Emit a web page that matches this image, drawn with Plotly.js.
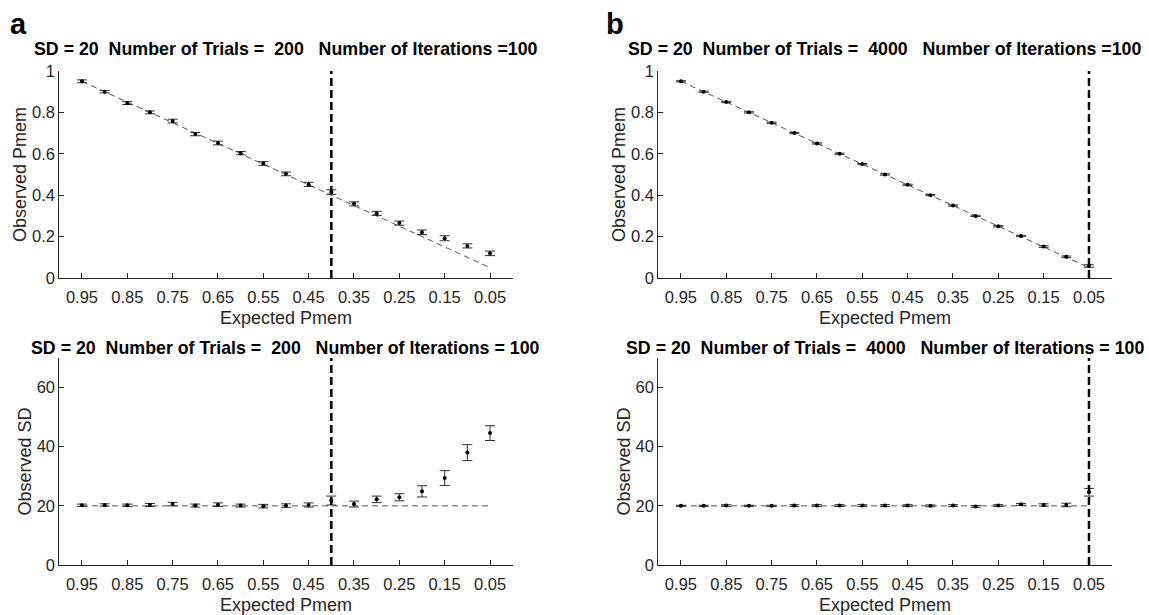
<!DOCTYPE html>
<html><head><meta charset="utf-8">
<script src="https://cdn.plot.ly/plotly-3.0.1.min.js"></script>
<style>html,body{margin:0;padding:0;background:#fff}#chart{width:1149px;height:615px}</style>
</head><body><div id="chart"></div>
<script>
// Expected Pmem (x categories, shared by all four panels)
const expectedPmem = [0.95,0.90,0.85,0.80,0.75,0.70,0.65,0.60,0.55,0.50,0.45,0.40,0.35,0.30,0.25,0.20,0.15,0.10,0.05];
const xTickVals = [0.95,0.85,0.75,0.65,0.55,0.45,0.35,0.25,0.15,0.05];
const xTickText = ["0.95","0.85","0.75","0.65","0.55","0.45","0.35","0.25","0.15","0.05"];
const trueSD = 20;

// Panel a (200 trials)
const aPmem    = [0.950,0.900,0.845,0.800,0.758,0.695,0.652,0.603,0.553,0.503,0.452,0.415,0.358,0.312,0.265,0.221,0.192,0.155,0.119];
const aPmemErr = [0.007,0.006,0.007,0.007,0.009,0.008,0.009,0.008,0.009,0.009,0.010,0.011,0.010,0.010,0.010,0.011,0.012,0.010,0.011];
const aSD      = [20.2,20.3,20.2,20.3,20.6,20.1,20.4,20.1,19.9,20.1,20.3,21.8,20.6,22.2,22.9,24.9,29.4,38.0,44.6];
const aSDErr   = [0.4,0.4,0.4,0.5,0.6,0.5,0.6,0.5,0.6,0.6,0.7,1.5,1.0,1.1,1.2,1.9,2.5,2.7,2.5];
const aCutoff  = 0.40;

// Panel b (4000 trials)
const bPmem    = [0.950,0.900,0.850,0.800,0.750,0.700,0.650,0.600,0.550,0.500,0.450,0.400,0.350,0.300,0.250,0.203,0.152,0.102,0.058];
const bPmemErr = [0.003,0.003,0.003,0.003,0.003,0.003,0.003,0.003,0.003,0.003,0.003,0.003,0.003,0.003,0.003,0.003,0.004,0.004,0.006];
const bSD      = [20.0,20.0,20.1,20.0,20.0,20.1,20.1,20.1,20.1,20.1,20.1,20.0,20.1,19.8,20.1,20.5,20.3,20.3,24.6];
const bSDErr   = [0.2,0.2,0.3,0.2,0.2,0.3,0.3,0.3,0.3,0.3,0.3,0.3,0.3,0.3,0.3,0.3,0.4,0.6,1.3];
const bCutoff  = 0.05;

const titles = [
  "SD = 20  Number of Trials =  200   Number of Iterations =100",
  "SD = 20  Number of Trials =  4000   Number of Iterations =100",
  "SD = 20  Number of Trials =  200   Number of Iterations = 100",
  "SD = 20  Number of Trials =  4000   Number of Iterations = 100"
];

const FONT = "Liberation Sans, Arial, sans-serif";
const AXC = "#262626";
const nb = s => s.replace(/ /g, "\u00a0");

function panelTraces(xa, ya, obs, err, ref) {
  return [
    {x: expectedPmem, y: ref, xaxis: xa, yaxis: ya, type: "scatter", mode: "lines",
     line: {color: "#555", width: 1, dash: "6px,4px"}, hoverinfo: "skip"},
    {x: expectedPmem, y: obs, xaxis: xa, yaxis: ya, type: "scatter", mode: "markers",
     marker: {color: "#000", size: 4},
     error_y: {type: "data", array: err, visible: true, color: "#333", thickness: 1, width: 5}}
  ];
}

const sdRef = expectedPmem.map(() => trueSD);
const data = [].concat(
  panelTraces("x", "y", aPmem, aPmemErr, expectedPmem),
  panelTraces("x2", "y2", bPmem, bPmemErr, expectedPmem),
  panelTraces("x3", "y3", aSD, aSDErr, sdRef),
  panelTraces("x4", "y4", bSD, bSDErr, sdRef)
);

function xax(domain, anchor) {
  return {domain: domain, anchor: anchor, range: [1, 0], tickvals: xTickVals, ticktext: xTickText,
    ticks: "inside", ticklen: 5, tickcolor: AXC, showline: true, linecolor: AXC, linewidth: 1,
    showgrid: false, zeroline: false, tickfont: {family: FONT, size: 16.5, color: AXC},
    ticklabelstandoff: 4,
    title: {text: "Expected Pmem", font: {family: FONT, size: 18, color: AXC}, standoff: 6},
    automargin: false, fixedrange: true};
}
function yax(domain, anchor, range, dtick, title) {
  return {domain: domain, anchor: anchor, range: range, dtick: dtick,
    ticks: "inside", ticklen: 5, tickcolor: AXC, showline: true, linecolor: AXC, linewidth: 1,
    showgrid: false, zeroline: false, tickfont: {family: FONT, size: 16.5, color: AXC},
    title: {text: title, font: {family: FONT, size: 18, color: AXC}, standoff: 0},
    automargin: false, fixedrange: true};
}

const xa = [0.0516, 0.4462], xb = [0.5729, 0.9675];
const yTop = [0.548, 0.8846], yBot = [0.0813, 0.4179];

const annotations = [
  {text: titles[0], x: (xa[0]+xa[1])/2, y: 1 - 49.5/615},
  {text: titles[1], x: (xb[0]+xb[1])/2, y: 1 - 49.5/615},
  {text: titles[2], x: (xa[0]+xa[1])/2, y: 1 - 347.5/615},
  {text: titles[3], x: (xb[0]+xb[1])/2, y: 1 - 347.5/615}
].map(a => ({text: "<b>" + nb(a.text) + "</b>", x: a.x, y: a.y, xref: "paper", yref: "paper",
  xanchor: "center", yanchor: "middle", showarrow: false, font: {family: FONT, size: 17.8, color: "#000"}}));
annotations.push({text: "<b>a</b>", x: 8/1149, y: 1 - 24/615, xref: "paper", yref: "paper",
  xanchor: "left", yanchor: "middle", showarrow: false, font: {family: FONT, size: 29, color: "#000"}});
annotations.push({text: "<b>b</b>", x: 604/1149, y: 1 - 24/615, xref: "paper", yref: "paper",
  xanchor: "left", yanchor: "middle", showarrow: false, font: {family: FONT, size: 29, color: "#000"}});

function vline(xref, yref, xv) {
  return {type: "line", xref: xref, yref: yref + " domain", x0: xv, x1: xv, y0: 0, y1: 1,
    line: {color: "#000", width: 2.5, dash: "8px,4px"}};
}
const shapes = [vline("x", "y", aCutoff), vline("x3", "y3", aCutoff), vline("x2", "y2", bCutoff), vline("x4", "y4", bCutoff)];

const layout = {
  width: 1149, height: 615, margin: {l: 0, r: 0, t: 0, b: 0},
  paper_bgcolor: "#fff", plot_bgcolor: "#fff", showlegend: false,
  xaxis: xax(xa, "y"), yaxis: yax(yTop, "x", [0, 1], 0.2, "Observed Pmem"),
  xaxis2: xax(xb, "y2"), yaxis2: yax(yTop, "x2", [0, 1], 0.2, "Observed Pmem"),
  xaxis3: xax(xa, "y3"), yaxis3: yax(yBot, "x3", [0, 70], 20, "Observed SD"),
  xaxis4: xax(xb, "y4"), yaxis4: yax(yBot, "x4", [0, 70], 20, "Observed SD"),
  annotations: annotations, shapes: shapes
};

Plotly.newPlot("chart", data, layout, {staticPlot: true, displayModeBar: false});
</script>
</body></html>
